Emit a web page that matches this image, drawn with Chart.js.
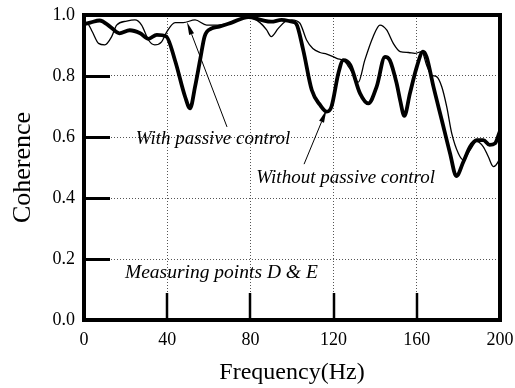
<!DOCTYPE html>
<html>
<head>
<meta charset="utf-8">
<script src="https://cdn.jsdelivr.net/npm/chart.js@4/dist/chart.umd.min.js"></script>
<style>
  html, body { margin: 0; padding: 0; background: #fff; }
  #wrap { width: 515px; height: 388px; }
</style>
</head>
<body>
<div id="wrap"><canvas id="c" width="515" height="388"></canvas></div>
<script>
// Coherence between measuring points D and E, 0–200 Hz
const freqWith = [0, 2, 4, 7, 10, 13.3, 15.7, 20.5, 24.5, 27.7, 31, 34, 37.3, 39.8, 43.8,
  47.7, 53.4, 59, 64.4, 71, 79, 84.6, 87.8, 90, 93.4, 96.6, 99.8, 103.8, 107, 110,
  113.5, 116.7, 121.5, 125.5, 128.7, 131.9, 135, 139, 142.3, 145.5, 148.7, 152, 156, 159, 162.4,
  164.7, 167, 169.5, 172, 174.4, 176.8, 180, 182.4, 185.6, 188.8, 192, 194.4, 196.8, 199.2, 200];
const cohWith = [0.975, 0.970, 0.945, 0.907, 0.902, 0.929, 0.967, 0.980, 0.984, 0.967, 0.918, 0.902, 0.912, 0.945, 0.975,
  0.975, 0.984, 0.967, 0.967, 0.975, 0.993, 0.975, 0.951, 0.929, 0.956, 0.978, 0.984, 0.973, 0.918, 0.890,
  0.877, 0.872, 0.858, 0.847, 0.814, 0.780, 0.852, 0.929, 0.967, 0.951, 0.907, 0.880, 0.877, 0.874, 0.880,
  0.836, 0.803, 0.798, 0.765, 0.699, 0.612, 0.546, 0.525, 0.557, 0.585, 0.568, 0.535, 0.503, 0.520, 0.535];

const freqWithout = [0, 3, 7.5, 12.5, 17, 22, 27, 31, 35, 39.5, 43.8, 48.6, 51, 53.4, 55.8,
  58, 61.4, 65, 71, 79, 85, 90, 95, 100, 102, 105.4, 109.5, 113.5, 116.7, 119,
  122.3, 124.7, 128, 132.7, 136.7, 140.7, 144.7, 147, 150.3, 152, 154, 156.7, 160, 163, 164.7,
  168, 172, 176, 179, 182.4, 185.6, 188.8, 192, 195, 197.6, 200];
const cohWithout = [0.970, 0.975, 0.982, 0.962, 0.940, 0.950, 0.940, 0.922, 0.935, 0.930, 0.850, 0.732, 0.694, 0.765, 0.852,
  0.930, 0.956, 0.962, 0.975, 0.993, 0.984, 0.978, 0.984, 0.978, 0.972, 0.885, 0.754, 0.705, 0.683, 0.700,
  0.809, 0.852, 0.836, 0.743, 0.710, 0.765, 0.863, 0.852, 0.776, 0.720, 0.669, 0.743, 0.830, 0.880, 0.863,
  0.765, 0.656, 0.546, 0.472, 0.519, 0.568, 0.590, 0.590, 0.574, 0.579, 0.620];

const xTickValues = [0, 40, 80, 120, 160, 200];
const yTickValues = [0, 0.2, 0.4, 0.6, 0.8, 1.0];

// text notes placed in data coordinates
const notes = [
  { text: 'With passive control', x: 62, y: 0.577, align: 'center', size: 19 },
  { text: 'Without passive control', x: 125.8, y: 0.448, align: 'center', size: 19 },
  { text: 'Measuring points D & E', x: 19.7, y: 0.138, align: 'left', size: 19.5 }
];
const arrows = [
  { from: [68.75, 0.633], to: [49.5, 0.977] },
  { from: [105.8, 0.511], to: [116.6, 0.689] }
];

const serif = "'Liberation Serif', 'Times New Roman', serif";
const toPts = (xs, ys) => xs.map((x, i) => ({ x, y: ys[i] }));

const framePlugin = {
  id: 'frame',
  afterDraw(chart) {
    const { ctx, chartArea: a, scales: { x, y } } = chart;
    ctx.save();
    ctx.strokeStyle = '#000';
    ctx.lineCap = 'butt';
    // inward tick marks on the left axis
    ctx.lineWidth = 3;
    yTickValues.slice(1, -1).forEach(v => {
      const py = Math.round(y.getPixelForValue(v)) + 0.5;
      ctx.beginPath(); ctx.moveTo(a.left, py); ctx.lineTo(a.left + 26, py); ctx.stroke();
    });
    // inward tick marks on the bottom axis
    ctx.lineWidth = 2.5;
    xTickValues.slice(1, -1).forEach(v => {
      const px = Math.round(x.getPixelForValue(v));
      ctx.beginPath(); ctx.moveTo(px, a.bottom); ctx.lineTo(px, a.bottom - 27); ctx.stroke();
    });
    // heavy frame
    ctx.lineWidth = 4;
    ctx.strokeRect(a.left, a.top, a.right - a.left, a.bottom - a.top);

    // arrows
    ctx.lineWidth = 1;
    ctx.fillStyle = '#000';
    arrows.forEach(ar => {
      const x1 = x.getPixelForValue(ar.from[0]), y1 = y.getPixelForValue(ar.from[1]);
      const x2 = x.getPixelForValue(ar.to[0]), y2 = y.getPixelForValue(ar.to[1]);
      const ang = Math.atan2(y2 - y1, x2 - x1);
      const len = 13, half = 2.6;
      const bx = x2 - len * Math.cos(ang), by = y2 - len * Math.sin(ang);
      ctx.beginPath(); ctx.moveTo(x1, y1); ctx.lineTo(bx, by); ctx.stroke();
      ctx.beginPath();
      ctx.moveTo(x2, y2);
      ctx.lineTo(bx + half * Math.sin(ang), by - half * Math.cos(ang));
      ctx.lineTo(bx - half * Math.sin(ang), by + half * Math.cos(ang));
      ctx.closePath(); ctx.fill();
    });

    // notes
    ctx.textBaseline = 'alphabetic';
    notes.forEach(n => {
      ctx.font = `italic ${n.size}px ${serif}`;
      ctx.textAlign = n.align;
      ctx.fillText(n.text, x.getPixelForValue(n.x), y.getPixelForValue(n.y));
    });
    ctx.restore();
  }
};

new Chart(document.getElementById('c'), {
  type: 'line',
  data: {
    datasets: [
      {
        label: 'With passive control',
        data: toPts(freqWith, cohWith),
        borderColor: '#000', borderWidth: 1.3,
        pointRadius: 0, fill: false,
        cubicInterpolationMode: 'monotone'
      },
      {
        label: 'Without passive control',
        data: toPts(freqWithout, cohWithout),
        borderColor: '#000', borderWidth: 3.8,
        pointRadius: 0, fill: false,
        cubicInterpolationMode: 'monotone'
      }
    ]
  },
  options: {
    responsive: false,
    devicePixelRatio: 1,
    animation: false,
    events: [],
    layout: { padding: { left: 0, right: 15, top: 15, bottom: 0 } },
    plugins: { legend: { display: false }, tooltip: { enabled: false } },
    scales: {
      x: {
        type: 'linear', min: 0, max: 200,
        afterBuildTicks: s => { s.ticks = xTickValues.map(v => ({ value: v })); },
        afterFit: s => { s.height = 68; s.paddingLeft = 0; s.paddingRight = 0; },
        ticks: { color: '#000', font: { family: serif, size: 18 }, padding: 9, maxRotation: 0 },
        grid: { color: '#555', lineWidth: 1, drawTicks: false },
        border: { display: false, dash: [1, 2] },
        title: { display: true, text: 'Frequency(Hz)', color: '#000',
                 font: { family: serif, size: 24 }, padding: { top: 0, bottom: 1 } }
      },
      y: {
        type: 'linear', min: 0, max: 1,
        afterBuildTicks: s => { s.ticks = yTickValues.map(v => ({ value: v })); },
        afterFit: s => { s.width = 84; s.paddingTop = 0; s.paddingBottom = 0; },
        ticks: { color: '#000', font: { family: serif, size: 18 }, padding: 9,
                 callback: v => Number(v).toFixed(1) },
        grid: { color: '#555', lineWidth: 1, drawTicks: false },
        border: { display: false, dash: [1, 2] },
        title: { display: true, text: 'Coherence', color: '#000',
                 font: { family: serif, size: 26 }, padding: { top: 8, bottom: 0 } }
      }
    }
  },
  plugins: [framePlugin]
});
</script>
</body>
</html>
